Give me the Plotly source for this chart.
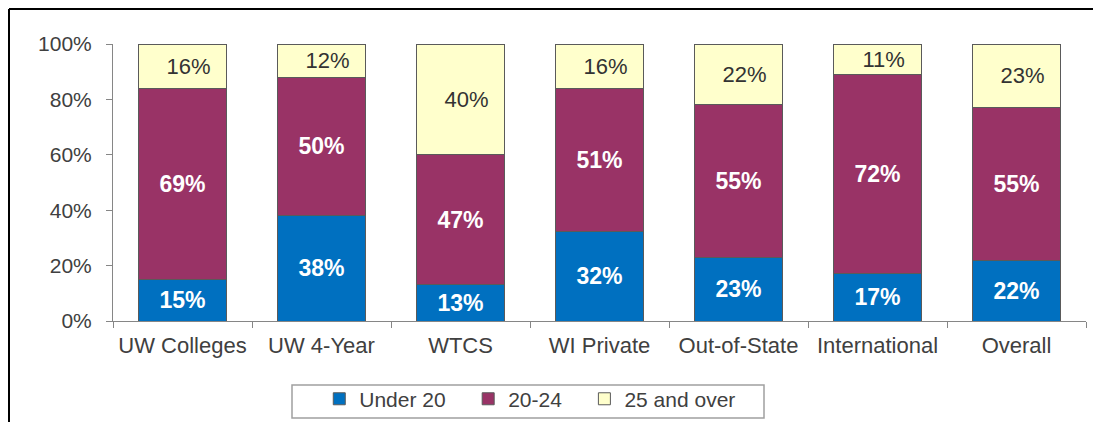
import plotly.graph_objects as go

categories = ["UW Colleges", "UW 4-Year", "WTCS", "WI Private", "Out-of-State", "International", "Overall"]
under_20 = [15, 38, 13, 32, 23, 17, 22]
age_20_24 = [69, 50, 47, 51, 55, 72, 55]
age_25_over = [16, 12, 40, 16, 22, 11, 23]
y_ticks = [0, 20, 40, 60, 80, 100]
y_tick_labels = ["0%", "20%", "40%", "60%", "80%", "100%"]

FONT = "Liberation Sans, Arial, sans-serif"
LINE = "#5a5a5a"
NB = "\u00a0"

# figure sits in the page body (8px margin); page coords = figure coords + 8
W, H = 1085, 414
ML, MT = 105, 36
PW, PH = 973, 277
MR = W - ML - PW
MB = H - MT - PH


def px_x(page_x):
    return (page_x - 8 - ML) / PW


def px_y(page_y):
    return (MT + PH - (page_y - 8)) / PH


fig = go.Figure()
series = [
    ("Under 20" + NB * 3, under_20, "#0070C0", dict(color="white", size=23, family=FONT, weight="bold"), ""),
    ("20-24" + NB * 3, age_20_24, "#993366", dict(color="white", size=23, family=FONT, weight="bold"), ""),
    ("25 and over", age_25_over, "#FFFFCC", dict(color="#333333", size=22, family=FONT), NB * 2),
]
for name, vals, color, tfont, pad in series:
    fig.add_trace(go.Bar(
        name=name, x=categories, y=vals,
        marker=dict(color=color, line=dict(color=LINE, width=1)),
        text=[f"{pad}{v}%" for v in vals],
        texttemplate="%{text}",
        textposition="inside", insidetextanchor="middle",
        textangle=0, constraintext="none",
        textfont=tfont, insidetextfont=tfont,
        hoverinfo="skip",
    ))

fig.update_layout(
    barmode="stack", barnorm="percent", bargap=0.374,
    width=W, height=H,
    margin=dict(l=ML, r=MR, t=MT, b=MB, autoexpand=False),
    paper_bgcolor="white", plot_bgcolor="white",
    font=dict(family=FONT, color="#404040", size=21),
    showlegend=True,
    legend=dict(orientation="h", x=0.212, xanchor="left", y=-0.208, yanchor="top",
                font=dict(size=21, family=FONT, color="#404040"),
                bgcolor="rgba(0,0,0,0)", borderwidth=0, traceorder="normal"),
)
fig.update_yaxes(range=[0, 100], tickvals=y_ticks, ticktext=y_tick_labels,
                 showgrid=False, showline=True, linecolor="#868686", linewidth=1,
                 ticks="outside", ticklen=6, tickcolor="#868686",
                 tickfont=dict(size=21, color="#404040"), ticklabelstandoff=10,
                 zeroline=False)
fig.update_xaxes(showgrid=False, showline=True, linecolor="#868686", linewidth=1,
                 ticks="outside", ticklen=6, tickcolor="#868686", tickson="boundaries",
                 tickfont=dict(size=22, color="#404040"), ticklabelstandoff=5)

# legend box
fig.add_shape(type="rect", xref="paper", yref="paper",
              x0=px_x(292), x1=px_x(764), y0=px_y(418), y1=px_y(385),
              line=dict(color="#A0A0A0", width=1.5), fillcolor="rgba(0,0,0,0)")
# outer frame (top and left edges)
fig.add_shape(type="line", xref="paper", yref="paper",
              x0=px_x(9), x1=1.1, y0=px_y(9), y1=px_y(9),
              line=dict(color="black", width=2))
fig.add_shape(type="line", xref="paper", yref="paper",
              x0=px_x(9), x1=px_x(9), y0=px_y(9), y1=-0.5,
              line=dict(color="black", width=2))

fig.write_html("out.html")
